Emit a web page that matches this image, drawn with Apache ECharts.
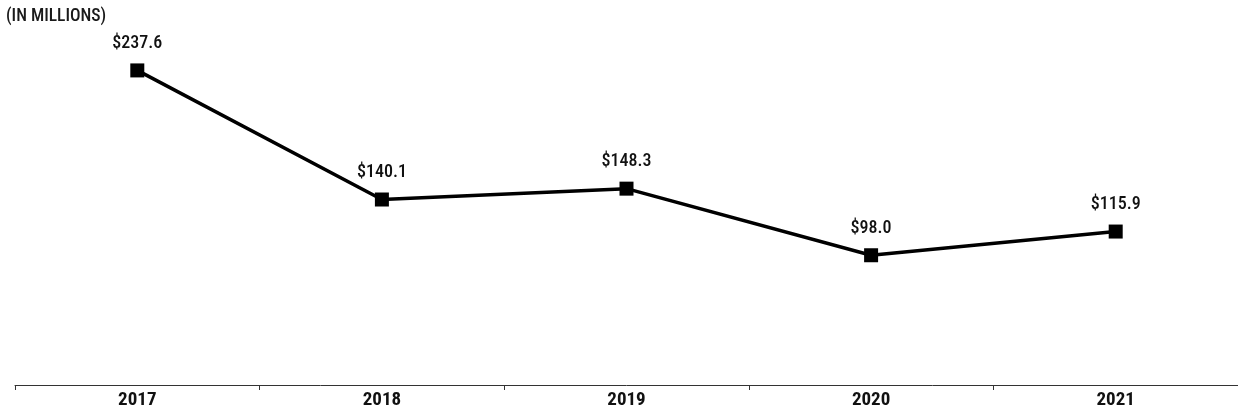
<!DOCTYPE html>
<html>
<head>
<meta charset="utf-8">
<script src="https://cdn.jsdelivr.net/npm/echarts@6/dist/echarts.min.js"></script>
<style>
  html, body { margin: 0; padding: 0; background: #fff; }
  #chart { width: 1238px; height: 416px; }
</style>
</head>
<body>
<div id="chart"></div>
<script>
// Annual values, in millions of dollars
const years = ['2017', '2018', '2019', '2020', '2021'];
const values = [237.6, 140.1, 148.3, 98.0, 115.9];
const unitNote = '(IN MILLIONS)';

const FONT = '"Roboto Condensed", "DejaVu Sans Condensed", sans-serif';

const chart = echarts.init(document.getElementById('chart'));
chart.setOption({
  animation: false,
  backgroundColor: '#ffffff',
  title: {
    text: unitNote,
    left: 1,
    top: 3,
    textStyle: { fontFamily: FONT, fontSize: 17.5, fontWeight: 500, color: '#1a1a1a' }
  },
  grid: { left: 15, width: 1225, top: 54, bottom: 31, containLabel: false },
  xAxis: {
    type: 'category',
    data: years,
    boundaryGap: true,
    axisLine: { lineStyle: { color: '#333', width: 1 } },
    axisTick: { show: true, length: 5, lineStyle: { color: '#333' } },
    axisLabel: { fontFamily: FONT, fontSize: 19, fontWeight: 'bold', color: '#111', margin: 6 }
  },
  yAxis: {
    type: 'value',
    min: 0,
    max: 250,
    show: false,
    splitLine: { show: false }
  },
  series: [{
    type: 'line',
    data: values,
    symbol: 'rect',
    symbolSize: 14,
    lineStyle: { color: '#000', width: 3.5 },
    itemStyle: { color: '#000' },
    label: {
      show: true,
      position: 'top',
      distance: 11,
      fontFamily: FONT,
      fontSize: 18,
      fontWeight: 500,
      color: '#111',
      formatter: p => '$' + p.value.toFixed(1)
    }
  }]
});
</script>
</body>
</html>
